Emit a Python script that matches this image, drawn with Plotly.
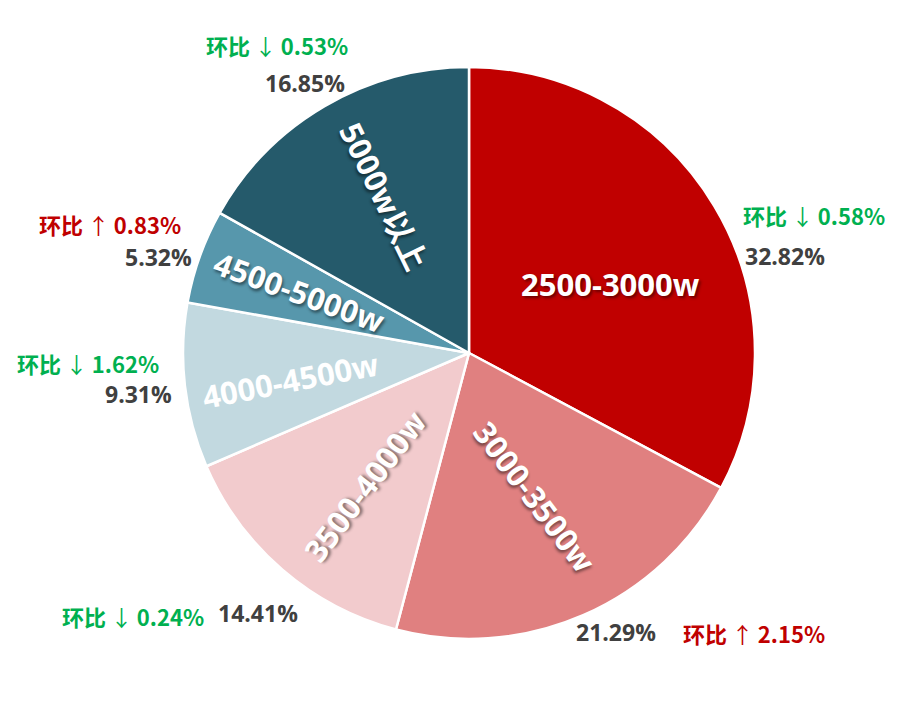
import math
import plotly.graph_objects as go

# ---- data ----
categories = ["2500-3000w", "3000-3500w", "3500-4000w", "4000-4500w", "4500-5000w", "5000w以上"]
shares = [32.82, 21.29, 14.41, 9.31, 5.32, 16.85]
mom_change = [-0.58, 2.15, -0.24, -1.62, 0.83, -0.53]   # 环比 change (negative = down)

# ---- styles ----
colors = ["#C00000", "#E08080", "#F2CBCD", "#C2D9E0", "#5797AC", "#255A6B"]
W, H = 910, 709
OFF = 8                              # page body margin compensation (px)
CX, CY, R = 469 - OFF, 353 - OFF, 286   # pie centre / radius in px
label_angles = [0, 53, -53, -11, 20, 64]   # inside label rotation
label_rfac = [0.55, 0.555, 0.59, 0.63, 0.63, 0.625]
label_dtheta = [5, -1, -2.5, -2, 0, 2]
label_shadow = [True, True, True, False, True, True]
# outside label positions (px): (pct x, pct y, mom x, mom y)
outer_pos = [
    (785, 256, 814, 215),
    (616, 632, 754, 633),
    (258, 613, 133, 616),
    (138, 394, 88, 363),
    (158, 257, 110, 224),
    (305, 83, 277, 45),
]
FONT = "Open Sans, Noto Sans CJK SC, sans-serif"
CJK = "Noto Sans CJK SC, Open Sans, sans-serif"
GREEN, RED, GRAY = "#00B050", "#C00000", "#404040"

fig = go.Figure(go.Pie(
    labels=categories, values=shares, sort=False, direction="clockwise",
    rotation=0, marker=dict(colors=colors, line=dict(color="white", width=2.5)),
    textinfo="none", hoverinfo="label+percent", showlegend=False,
    domain=dict(x=[(CX - R) / W, (CX + R) / W], y=[1 - (CY + R) / H, 1 - (CY - R) / H]),
))

def px2paper(x, y):
    return x / W, 1 - y / H

total = sum(shares)
cum = 0.0
annotations = []
for i, (cat, v) in enumerate(zip(categories, shares)):
    mid = (cum + v / 2) / total * 360 + label_dtheta[i]
    cum += v
    rr = R * label_rfac[i]
    x = CX + rr * math.sin(math.radians(mid))
    y = CY - rr * math.cos(math.radians(mid))
    ax, ay = px2paper(x, y)
    annotations.append(dict(
        x=ax, y=ay, xref="paper", yref="paper", text=f"<b>{cat}</b>", showarrow=False,
        textangle=label_angles[i], xanchor="center", yanchor="middle",
        font=dict(family=FONT, size=31, color="white",
                  shadow="2px 2px 3px rgba(0,0,0,0.45)" if label_shadow[i] else "none"),
    ))
    px_, py_, mx_, my_ = outer_pos[i]
    a1, b1 = px2paper(px_ - OFF, py_ - OFF)
    annotations.append(dict(
        x=a1, y=b1, xref="paper", yref="paper", text=f"<b>{v:.2f}%</b>", showarrow=False,
        xanchor="center", yanchor="middle", font=dict(family=FONT, size=23, color=GRAY),
    ))
    d = mom_change[i]
    arrow = "↑" if d > 0 else "↓"
    col = RED if d > 0 else GREEN
    a2, b2 = px2paper(mx_ - OFF, my_ - OFF)
    annotations.append(dict(
        x=a2, y=b2, xref="paper", yref="paper",
        text=f"<b>环比</b>\u2009{arrow}\u2009<b>{abs(d):.2f}%</b>", showarrow=False,
        xanchor="center", yanchor="middle", font=dict(family=CJK, size=22, color=col),
    ))

fig.update_layout(
    width=W, height=H, margin=dict(l=0, r=0, t=0, b=0),
    paper_bgcolor="white", plot_bgcolor="white", annotations=annotations,
)
fig.write_html("out.html")
